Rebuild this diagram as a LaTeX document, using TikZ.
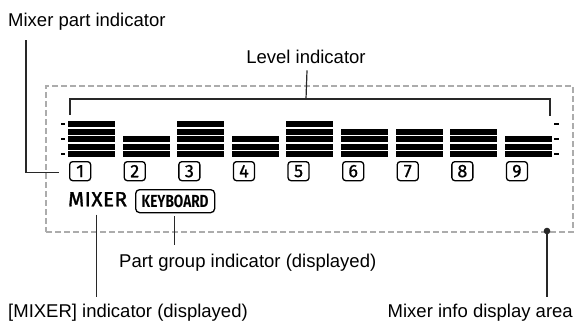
\documentclass[tikz,border=0pt]{standalone}
\usepackage{fontspec}
\setmainfont{Liberation Sans}
\newfontfamily\dispfont{Fira Sans}
\newfontfamily\dispdigit[FakeBold=0.8]{Fira Sans}
\newfontfamily\dispword[FakeBold=1.6,LetterSpace=3]{Fira Sans}
\newfontfamily\dispcond[FakeStretch=0.78]{Fira Sans}
\usetikzlibrary{positioning,calc}
\definecolor{areagray}{RGB}{172,172,172}
\definecolor{leadgray}{RGB}{40,40,40}
\begin{document}
\begin{tikzpicture}[x=1pt,y=-1pt,lbl/.style={inner sep=0,anchor=base west,font=\fontsize{18.5}{22}\selectfont},lead/.style={leadgray,line width=1.2pt},numbox/.style={draw,rounded corners=3pt,line width=1.3pt,minimum width=21pt,minimum height=19pt,inner sep=0,anchor=north west,font=\dispdigit\fontsize{18}{18}\selectfont},tickmark/.style={line width=2pt}]
\useasboundingbox (0,0) rectangle (575,322);
% display area
\node[draw=areagray,line width=2pt,dash pattern=on 6pt off 3pt,minimum width=527pt,minimum height=146pt,inner sep=0,anchor=north west] (area) at (45,85) {};
% level bars and part numbers
\foreach \h [count=\i] in {5,3,5,3,5,4,4,4,3}{
  \pgfmathsetmacro\bx{68+(\i-1)*54.6}
  \foreach \k in {1,...,\h}\fill (\bx,{157-(\k-1)*7.5}) rectangle ++(47,-5.8);
  \node[numbox] (num\i) at (\bx+1,161) {\i};
}
\foreach \ty in {124,139,154}\draw[tickmark] (61,\ty)--(65,\ty) (554,\ty)--(559,\ty);
\node[inner sep=0,anchor=north west,font=\dispword\fontsize{20.5}{20.5}\selectfont] (mixer) at (68,192) {MIXER};
\node[draw,rounded corners=4pt,line width=1.3pt,minimum width=79pt,minimum height=23pt,inner sep=0,anchor=north west,font=\dispcond\bfseries\fontsize{17.5}{17.5}\selectfont] (keyb) at (135,189) {KEYBOARD};
% labels
\node[lbl] (partlbl) at (8,26) {Mixer part indicator};
\node[lbl,anchor=base] (levellbl) at (306,63) {Level indicator};
\node[lbl] (partgrplbl) at (119,267) {Part group indicator (displayed)};
\node[lbl] (mixerlbl) at (8,317) {[MIXER] indicator (displayed)};
\node[lbl,anchor=base east] (infolbl) at (573,317) {Mixer info display area};
% leaders
\coordinate (brL) at (70,99);\coordinate (brR) at (550,99);\coordinate (dot) at (547,231);
\draw[lead] ($(brL)+(0,16)$)--(brL)--(brR)--($(brR)+(0,17)$);
\draw[lead] ($(levellbl.south)+(1,7)$)--(levellbl.south |- brL);
\draw[lead] ($(partlbl.south west)+(18,10)$) |- ($(num1.west)+(-10,1)$);
\draw[lead] ($(mixer.south)+(-1,8)$)--($(mixerlbl.north -| mixer.south)+(-1,-6)$);
\draw[lead] ($(keyb.south)+(-1,3)$)--($(partgrplbl.north -| keyb.south)+(-1,-8)$);
\fill[leadgray] (dot) circle (3.3);
\draw[lead] (dot)--($(infolbl.north -| dot)+(0,-6)$);
\end{tikzpicture}
\end{document}
